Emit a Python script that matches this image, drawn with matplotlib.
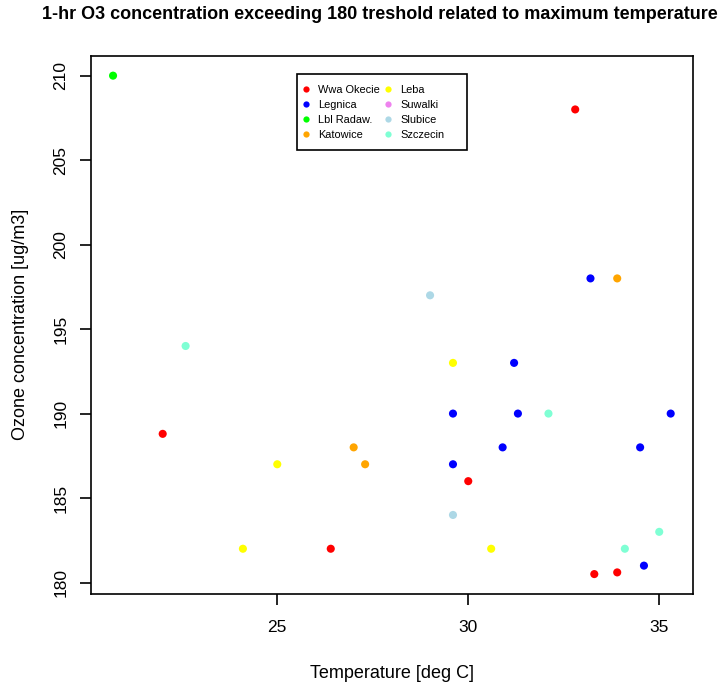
import matplotlib
matplotlib.use("Agg")
import matplotlib.pyplot as plt
from matplotlib.lines import Line2D
from matplotlib.patches import Rectangle

plt.rcParams['font.family'] = ['Liberation Sans', 'DejaVu Sans']

# stations and colours used in the legend
stations = ["Wwa Okecie", "Legnica", "Lbl Radaw.", "Katowice",
            "Leba", "Suwalki", "Slubice", "Szczecin"]
colors = ["red", "blue", "#00ff00", "orange",
          "yellow", "violet", "lightblue", "aquamarine"]

# max temperature [deg C] / 1-hr O3 [ug/m3] per station
temp = {
    "Wwa Okecie": [32.8, 22.0, 30.0, 26.4, 33.3, 33.9],
    "Legnica": [33.2, 31.2, 29.6, 31.3, 35.3, 30.9, 34.5, 29.6, 34.6],
    "Lbl Radaw.": [20.7],
    "Katowice": [33.9, 27.0, 27.3],
    "Leba": [29.6, 25.0, 24.1, 30.6],
    "Suwalki": [],
    "Slubice": [29.0, 29.6],
    "Szczecin": [22.6, 32.1, 35.0, 34.1],
}
ozone = {
    "Wwa Okecie": [208, 188.8, 186, 182, 180.5, 180.6],
    "Legnica": [198, 193, 190, 190, 190, 188, 188, 187, 181],
    "Lbl Radaw.": [210],
    "Katowice": [198, 188, 187],
    "Leba": [193, 187, 182, 182],
    "Suwalki": [],
    "Slubice": [197, 184],
    "Szczecin": [194, 190, 183, 182],
}

fig = plt.figure(figsize=(7.23, 6.82), dpi=100)
ax = fig.add_axes([0.1255, 0.129, 0.833, 0.7893])

for st, c in zip(stations, colors):
    ax.scatter(temp[st], ozone[st], s=34, color=c, edgecolors="none", zorder=3)

# R-like axis ranges (4% padding)
xmin, xmax = 20.7, 35.3
ymin, ymax = 180.5, 210.0
px = (xmax - xmin) * 0.04
py = (ymax - ymin) * 0.04
ax.set_xlim(xmin - px, xmax + px)
ax.set_ylim(ymin - py, ymax + py)

ax.set_xticks([25, 30, 35])
ax.set_yticks([180, 185, 190, 195, 200, 205, 210])
ax.tick_params(direction="out", length=8, width=1.2, labelsize=12.5)
ax.tick_params(axis="x", pad=11)
ax.tick_params(axis="y", pad=8)
for lab in ax.get_yticklabels():
    lab.set_rotation(90)
    lab.set_va("center")
for sp_ in ax.spines.values():
    sp_.set_linewidth(1.2)

ax.set_xlabel("Temperature [deg C]", fontsize=13, labelpad=21)
ax.set_ylabel("Ozone concentration [ug/m3]", fontsize=13, labelpad=18)
fig.text(0.525, 0.979, "1-hr O3 concentration exceeding 180 treshold related to maximum temperature",
         ha="center", va="center", fontsize=13, fontweight="bold")

# legend entries without frame, box drawn separately (R-style wide box)
handles = [Line2D([], [], marker="o", linestyle="none", markersize=4.5,
                  markerfacecolor=c, markeredgecolor="none") for c in colors]
leg = ax.legend(handles, stations, ncol=2, loc="upper left",
                bbox_to_anchor=(0.3425, 0.9605), borderaxespad=0,
                fontsize=7.9, frameon=False,
                handlelength=0.2, handletextpad=1.0, columnspacing=0.63,
                labelspacing=0.45, borderpad=0.75)
ax.add_patch(Rectangle((0.3425, 0.8248), 0.2823, 0.1412, transform=ax.transAxes,
                       facecolor="white", edgecolor="black", linewidth=1.2,
                       zorder=4))
leg.set_zorder(5)

fig.savefig("out.png", dpi=100)
